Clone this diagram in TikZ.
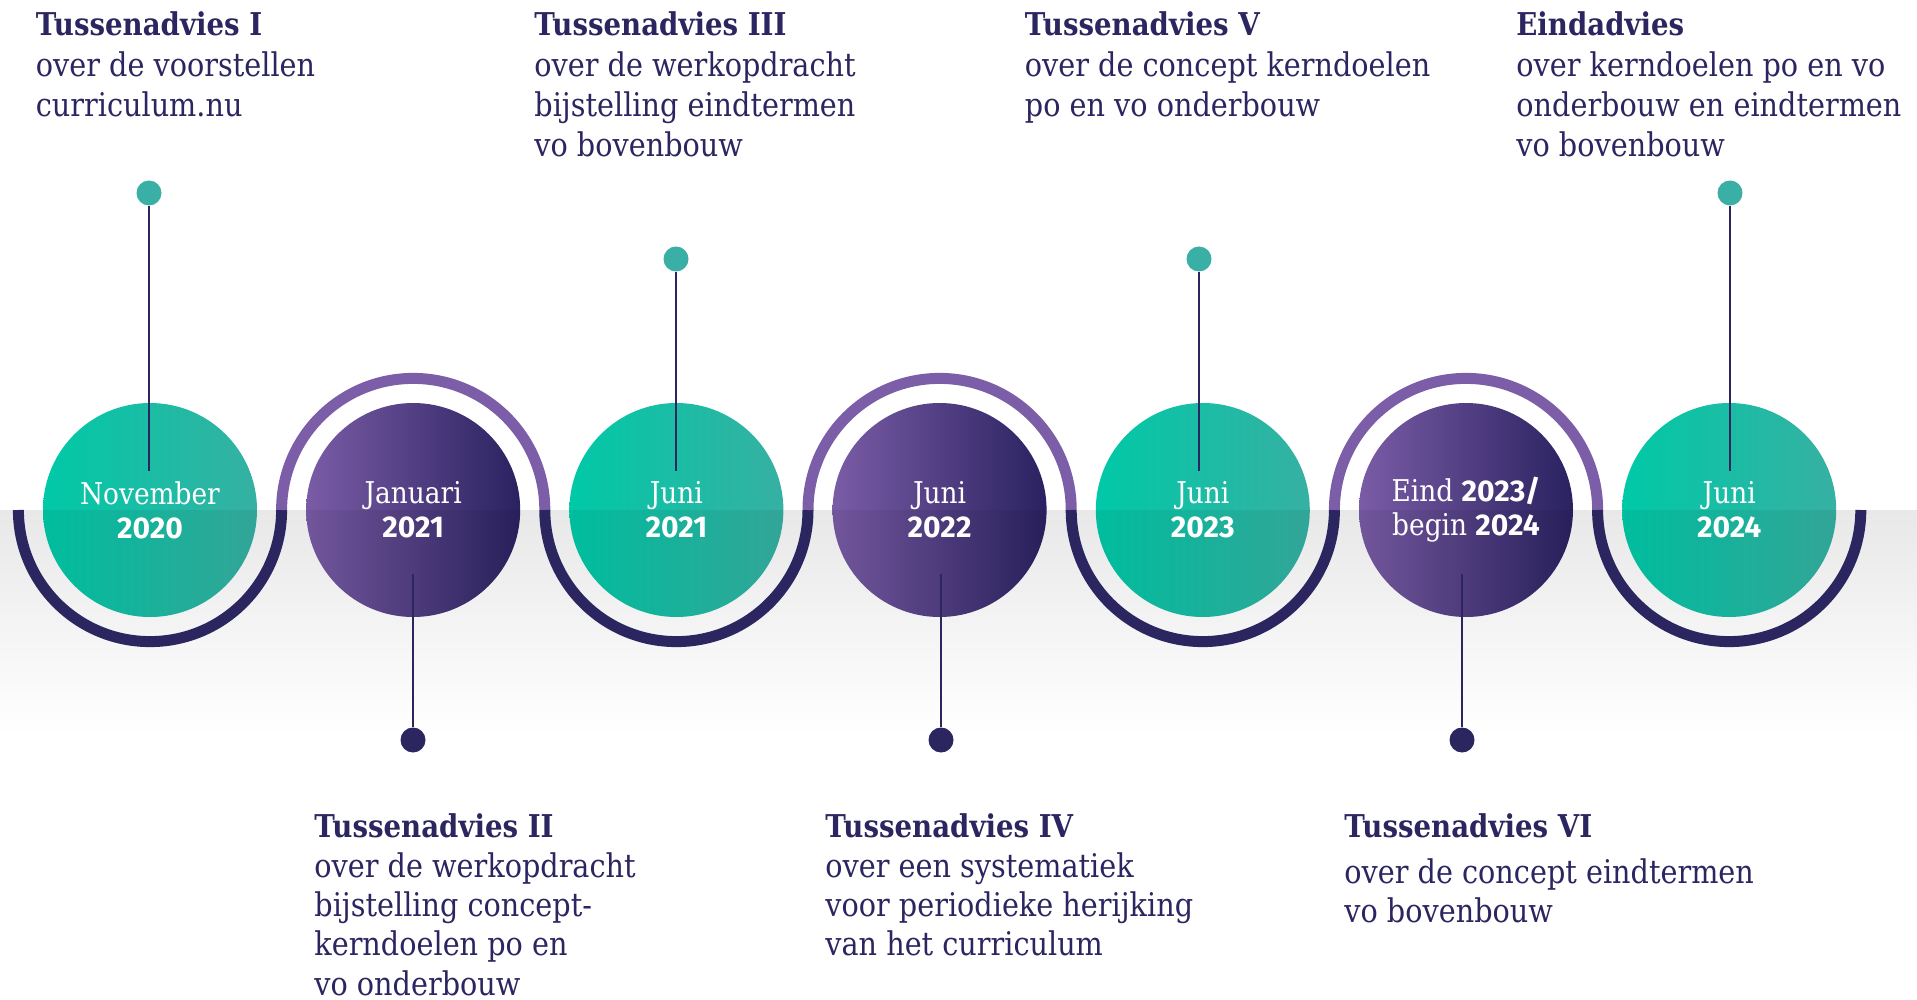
\documentclass[tikz,border=0pt]{standalone}
\usepackage{fontspec}
\setmainfont{DejaVu Serif}[FakeStretch=0.88]
\newfontfamily\yearfont{Fira Sans}
\usepackage{tikz}
\usetikzlibrary{positioning}
\definecolor{navy}{HTML}{2B2560}
\definecolor{ringpurple}{HTML}{7B5EA7}
\definecolor{tealL}{HTML}{00C9A7}
\definecolor{tealR}{HTML}{36B0A2}
\definecolor{purpleL}{HTML}{7A5CA6}
\definecolor{purpleR}{HTML}{2A2260}
\definecolor{dotteal}{HTML}{3AAFA5}
\newcommand{\yr}[1]{{\yearfont\bfseries #1}}
\tikzset{
  tealdate/.style={circle, minimum size=107pt, inner sep=0pt, left color=tealL, right color=tealR,
    text=white, align=center, font=\fontsize{15}{17}\selectfont,
    path picture={\fill[black, opacity=0.06] (path picture bounding box.west) rectangle (path picture bounding box.south east);}},
  purpledate/.style={tealdate, left color=purpleL, right color=purpleR},
  ring/.style={line width=5.5pt},
  pin/.style={navy, line width=0.7pt},
  tealdot/.style={circle, fill=dotteal, minimum size=12.5pt, inner sep=0pt},
  navydot/.style={tealdot, fill=navy},
  headtext/.style={anchor=base west, inner sep=0pt, text=navy, font=\bfseries\fontsize{15.7}{20}\selectfont},
  % base of a multi-line node is its last line
  bodytext/.style={anchor=base west, inner sep=0pt, text=navy, align=left, font=\fontsize{16.3}{20}\selectfont},
  lowtext/.style={bodytext, font=\fontsize{16.3}{19.7}\selectfont},
}
\begin{document}
\begin{tikzpicture}[x=0.5pt, y=-0.5pt]
	\useasboundingbox (0,0) rectangle (1917,1000);
	% Background band
	\shade[top color=black!9, bottom color=white] (0,510) rectangle (1917,735);
	% Wave
	\draw[ring, navy] (18.4,510) arc[start angle=180, end angle=0, radius=131.6];
	\draw[ring, ringpurple] (281.6,510) arc[start angle=180, end angle=360, radius=131.6];
	\draw[ring, navy] (544.8,510) arc[start angle=180, end angle=0, radius=131.6];
	\draw[ring, ringpurple] (808,510) arc[start angle=180, end angle=360, radius=131.6];
	\draw[ring, navy] (1071.2,510) arc[start angle=180, end angle=0, radius=131.6];
	\draw[ring, ringpurple] (1334.4,510) arc[start angle=180, end angle=360, radius=131.6];
	\draw[ring, navy] (1597.6,510) arc[start angle=180, end angle=0, radius=131.6];
	% Define nodes
	\node[tealdate]   (c1) at (150,510)    {November\\\yr{2020}};
	\node[purpledate] (c2) at (413.2,510)  {Januari\\\yr{2021}};
	\node[tealdate]   (c3) at (676.4,510)  {Juni\\\yr{2021}};
	\node[purpledate] (c4) at (939.6,510)  {Juni\\\yr{2022}};
	\node[tealdate]   (c5) at (1202.8,510) {Juni\\\yr{2023}};
	\node[purpledate] (c6) at (1466,510)   {Eind \yr{2023/}\\begin \yr{2024}};
	\node[tealdate]   (c7) at (1729.2,510) {Juni\\\yr{2024}};
	% Pins
	\node[tealdot] (d1) at (149,193) {};
	\node[navydot] (d2) at (413,740) {};
	\node[tealdot] (d3) at (676,259) {};
	\node[navydot] (d4) at (941,740) {};
	\node[tealdot] (d5) at (1199,259) {};
	\node[navydot] (d6) at (1462,740) {};
	\node[tealdot] (d7) at (1730,193) {};
	\coordinate (e1) at (149,471);
	\coordinate (e2) at (413,574);
	\coordinate (e3) at (676,471);
	\coordinate (e4) at (941,574);
	\coordinate (e5) at (1199,471);
	\coordinate (e6) at (1462,574);
	\coordinate (e7) at (1730,471);
	% Connect the nodes
	\draw[pin] (d1) -- (e1);
	\draw[pin] (e2) -- (d2);
	\draw[pin] (d3) -- (e3);
	\draw[pin] (e4) -- (d4);
	\draw[pin] (d5) -- (e5);
	\draw[pin] (e6) -- (d6);
	\draw[pin] (d7) -- (e7);
	% Texts above
	\node[headtext] (t1) at (35.5,36) {Tussenadvies I};
	\node[bodytext] (b1) at ([yshift=-40.5pt]t1.base west) {over de voorstellen\\curriculum.nu};
	\node[headtext] (t3) at (534,36) {Tussenadvies III};
	\node[bodytext] (b3) at ([yshift=-60.5pt]t3.base west) {over de werkopdracht\\bijstelling eindtermen\\vo bovenbouw};
	\node[headtext] (t5) at (1024.5,36) {Tussenadvies V};
	\node[bodytext] (b5) at ([yshift=-40.5pt]t5.base west) {over de concept kerndoelen\\po en vo onderbouw};
	\node[headtext] (t7) at (1516,36) {Eindadvies};
	\node[bodytext] (b7) at ([yshift=-60.5pt]t7.base west) {over kerndoelen po en vo\\onderbouw en eindtermen\\vo bovenbouw};
	% Texts below
	\node[headtext] (t2) at (314,837) {Tussenadvies II};
	\node[lowtext] (b2) at ([yshift=-79.1pt]t2.base west) {over de werkopdracht\\bijstelling concept-\\kerndoelen po en\\vo onderbouw};
	\node[headtext] (t4) at (825,837) {Tussenadvies IV};
	\node[lowtext] (b4) at ([yshift=-59.4pt]t4.base west) {over een systematiek\\voor periodieke herijking\\van het curriculum};
	\node[headtext] (t6) at (1344,837) {Tussenadvies VI};
	\node[lowtext] (b6) at ([yshift=-42.7pt]t6.base west) {over de concept eindtermen\\vo bovenbouw};
\end{tikzpicture}
\end{document}
